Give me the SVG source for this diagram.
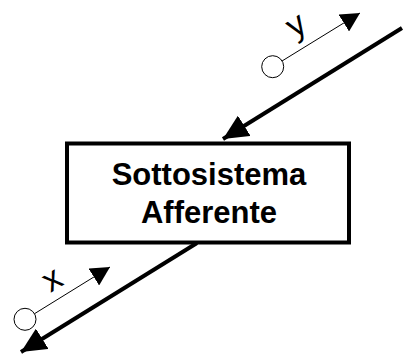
<svg xmlns="http://www.w3.org/2000/svg" width="405" height="359" viewBox="0 0 405 359">
<style>
.thick{stroke:#000;stroke-width:4;fill:none}
.thin{stroke:#000;stroke-width:1;fill:none}
.port{stroke:#000;stroke-width:1;fill:#fff}
.lbl{font-family:"Liberation Sans",Arial,sans-serif;font-size:34px;fill:#000;text-anchor:middle}
.title{font-family:"Liberation Sans",Arial,sans-serif;font-size:31px;font-weight:bold;fill:#000;text-anchor:middle}
</style>
<defs>
<marker id="big" markerUnits="userSpaceOnUse" viewBox="0 0 25 24" refX="25" refY="12" markerWidth="25" markerHeight="24" orient="auto">
<path d="M0,0 L25,12 L0,24 Z" fill="#000"/>
</marker>
<marker id="small" markerUnits="userSpaceOnUse" viewBox="0 0 19 20" refX="19" refY="10" markerWidth="19" markerHeight="20" orient="auto">
<path d="M0,0 L19,10 L0,20 Z" fill="#000"/>
</marker>
</defs>
<g id="connectors">
<line class="thick" x1="402" y1="28" x2="223" y2="139" marker-end="url(#big)"/>
<line class="thick" x1="197" y1="243" x2="21" y2="352" marker-end="url(#big)"/>
<line class="thin" x1="282" y1="61" x2="360" y2="13" marker-end="url(#small)"/>
<line class="thin" x1="34" y1="314" x2="110" y2="267" marker-end="url(#small)"/>
</g>
<g id="port-y">
<circle class="port" cx="272.7" cy="66.7" r="11"/>
<text class="lbl" transform="translate(301.6,34.2) rotate(-32)">y</text>
</g>
<g id="port-x">
<circle class="port" cx="25" cy="319.3" r="11"/>
<text class="lbl" transform="translate(57.7,288.5) rotate(-32)">x</text>
</g>
<g id="sottosistema">
<rect class="thick" x="67" y="143.5" width="282" height="99"/>
<text class="title" x="209" y="185">Sottosistema</text>
<text class="title" x="209" y="223">Afferente</text>
</g>
</svg>
